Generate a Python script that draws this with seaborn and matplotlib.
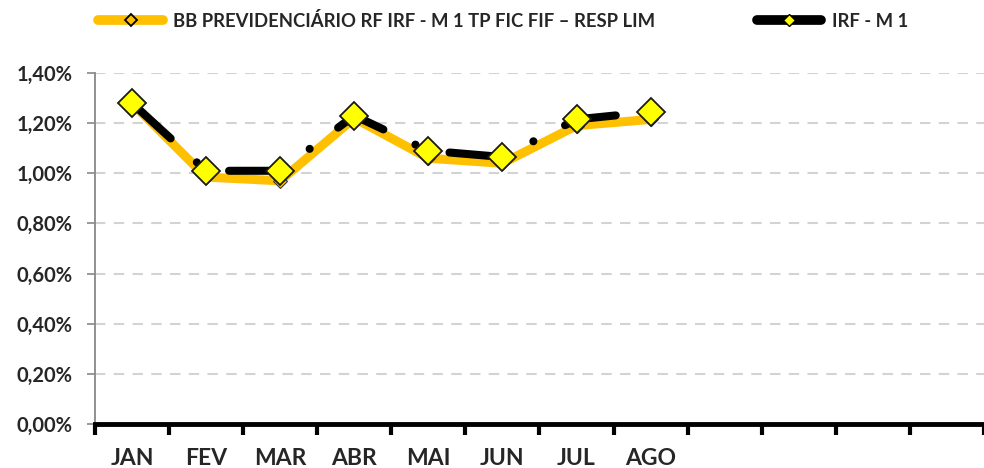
import numpy as np
import pandas as pd
import matplotlib
matplotlib.use("Agg")
import matplotlib.pyplot as plt
from matplotlib.lines import Line2D
from matplotlib.ticker import FixedLocator, FuncFormatter
import seaborn as sns

# Data
months = ["JAN", "FEV", "MAR", "ABR", "MAI", "JUN", "JUL", "AGO"]
n_slots = 12
fund_name = "BB PREVIDENCIÁRIO RF IRF - M 1 TP FIC FIF – RESP LIM"
bench_name = "IRF - M 1"
fund_values = [1.28, 0.985, 0.97, 1.22, 1.06, 1.04, 1.19, 1.215]
bench_values = [1.28, 1.01, 1.01, 1.23, 1.09, 1.065, 1.215, 1.245]
y_ticks = [0.0, 0.2, 0.4, 0.6, 0.8, 1.0, 1.2, 1.4]

sns.set_theme(style="white")
plt.rcParams["font.family"] = ["Lato", "DejaVu Sans"]
plt.rcParams["font.weight"] = "bold"

df = pd.DataFrame({"pos": np.arange(len(months)), "fund": fund_values, "bench": bench_values})

fig = plt.figure(figsize=(9.84, 4.68), dpi=100)
ax = fig.add_axes([0.0965, 0.094, 0.9035, 0.75])

orange = "#FFC000"
sns.lineplot(data=df, x="pos", y="fund", ax=ax, color=orange, linewidth=6.5,
             marker="D", markersize=7, markerfacecolor=orange, markeredgecolor="#333333",
             solid_joinstyle="round", zorder=2)
sns.lineplot(data=df, x="pos", y="bench", ax=ax, color="black", linewidth=5.8,
             linestyle=(0, (6.5, 4.4, 0.01, 4.4)), dash_capstyle="round",
             marker="D", markersize=14.5, markerfacecolor="#FFFF00",
             markeredgecolor="#1a1a1a", markeredgewidth=1.3, zorder=3)

ax.set_xlim(-0.5, n_slots - 0.5)
ax.set_ylim(0, 1.4)
ax.set_xlabel("")
ax.set_ylabel("")

# ticks at slot boundaries, labels at centres
ax.xaxis.set_major_locator(FixedLocator(np.arange(-0.5, n_slots, 1.0)))
ax.xaxis.set_major_formatter(FuncFormatter(lambda v, p: ""))
ax.xaxis.set_minor_locator(FixedLocator(np.arange(len(months))))
ax.set_xticklabels(months, minor=True)
ax.tick_params(axis="x", which="major", direction="out", length=8, width=3, color="black", bottom=True)
ax.tick_params(axis="x", which="minor", length=0, pad=17, labelsize=16.5)

ax.set_yticks(y_ticks)
ax.yaxis.set_major_formatter(FuncFormatter(lambda v, p: f"{v:.2f}%".replace(".", ",")))
ax.tick_params(axis="y", direction="out", length=6, width=1.2, color="#888888", left=True, labelsize=14.5, pad=10)

ax.grid(axis="y", color="#d3d3d3", linestyle=(0, (5, 4)), linewidth=1.5)
ax.grid(axis="x", visible=False)
ax.set_axisbelow(True)
sns.despine(ax=ax, top=True, right=True)
ax.spines["left"].set_color("#888888")
ax.spines["left"].set_linewidth(1.3)
ax.spines["bottom"].set_color("black")
ax.spines["bottom"].set_linewidth(3.5)
ax.spines["bottom"].set_zorder(5)

handles = [
    Line2D([0], [0], color=orange, linewidth=7, marker="D", markersize=6.5,
           markerfacecolor=orange, markeredgecolor="black", markeredgewidth=1.3,
           solid_capstyle="round"),
    Line2D([0], [0], color="black", linewidth=7, marker="D", markersize=6.5,
           markerfacecolor="#FFFF00", markeredgecolor="black", markeredgewidth=1,
           solid_capstyle="round"),
]
fig.legend(handles, [fund_name, bench_name], loc="upper left", bbox_to_anchor=(0.083, 1.01),
           ncol=2, frameon=False, handlelength=3.5, columnspacing=5.5, handletextpad=0.55,
           prop={"weight": "bold", "size": 13.3})

fig.savefig("out.png", dpi=100)
